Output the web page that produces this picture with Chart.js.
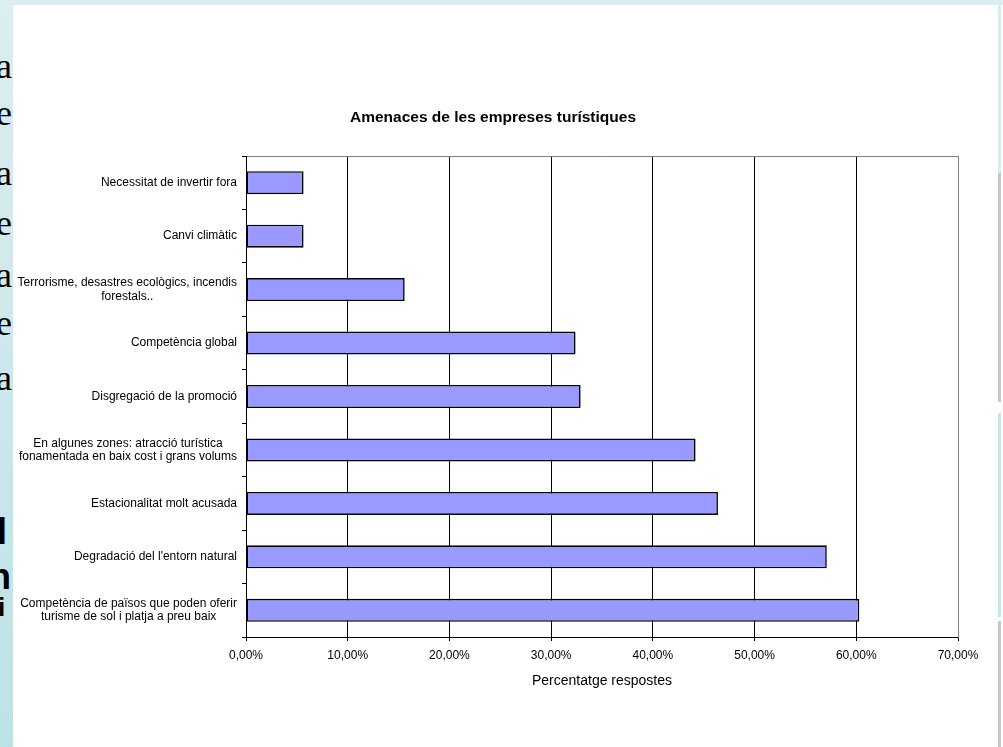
<!DOCTYPE html>
<html>
<head>
<meta charset="utf-8">
<script src="https://cdn.jsdelivr.net/npm/chart.js@4.4.1/dist/chart.umd.min.js"></script>
<style>
  html, body { margin: 0; padding: 0; }
  body {
    width: 1003px; height: 747px; overflow: hidden; position: relative;
    background: linear-gradient(#dceef0, #bde2e5);
  }
  .letter { position: absolute; color: #000; line-height: 1; }
  .serif { font-family: "Liberation Serif"; font-size: 36px; }
  .sans { font-family: "Liberation Sans"; font-weight: bold; font-size: 36px; }
  #panel { position: absolute; left: 13px; top: 5px; width: 985px; height: 742px; background: #fff; }
  #edge {
    position: absolute; left: 998px; top: 5px; width: 3px; height: 742px;
    background: linear-gradient(#d6ecee 0px, #d6ecee 168px, #c8c8c8 168px, #c8c8c8 397px,
      #fff 397px, #fff 408px, #c6e6e8 408px, #c6e6e8 612px, #fff 612px, #fff 616px, #c8c8c8 616px);
  }
  #right { position: absolute; left: 1001px; top: 5px; width: 2px; height: 742px; background: #fff; }
  #wrap { position: absolute; left: 0; top: 0; width: 986px; height: 747px; }
  #chart { display: block; width: 986px; height: 747px; }
</style>
</head>
<body>
<!-- slide text peeking out behind the chart -->
<span class="letter serif" style="left:-4px; top:48px">a</span>
<span class="letter serif" style="left:-4px; top:95px">e</span>
<span class="letter serif" style="left:-4px; top:155px">a</span>
<span class="letter serif" style="left:-4px; top:205px">e</span>
<span class="letter serif" style="left:-4px; top:257px">a</span>
<span class="letter serif" style="left:-4px; top:305px">e</span>
<span class="letter serif" style="left:-4px; top:360px">a</span>
<span class="letter sans" style="left:-3px; top:514px">l</span>
<span class="letter sans" style="left:-11px; top:559px">n</span>
<span class="letter sans" style="left:-2px; top:594px; font-size:26px">i</span>
<div id="panel"></div>
<div id="edge"></div>
<div id="right"></div>
<div id="wrap"><canvas id="chart" width="986" height="747"></canvas></div>

<script>
const chartTitle = "Amenaces de les empreses turístiques";
const axisTitle = "Percentatge respostes";

const categories = [
  ["Necessitat de invertir fora"],
  ["Canvi climàtic"],
  ["Terrorisme, desastres ecològics, incendis", "forestals.."],
  ["Competència global"],
  ["Disgregació de la promoció"],
  ["En algunes zones: atracció turística", "fonamentada en baix cost i grans volums"],
  ["Estacionalitat molt acusada"],
  ["Degradació del l'entorn natural"],
  ["Competència de països que poden oferir", "turisme de sol i platja a preu baix"]
];

const values = [5.66, 5.66, 15.6, 32.4, 32.9, 44.2, 46.4, 57.1, 60.3];

const xTickLabels = ["0,00%", "10,00%", "20,00%", "30,00%", "40,00%", "50,00%", "60,00%", "70,00%"];

const labelFont = '12px "Liberation Sans"';
const labelLineHeight = 13.5;

// category labels: block right-aligned at the axis, lines centred inside the block
const yLabelPlugin = {
  id: "yLabels",
  afterDraw(chart) {
    const ctx = chart.ctx;
    const scale = chart.scales.y;
    const right = chart.chartArea.left - 9;
    ctx.save();
    ctx.font = labelFont;
    ctx.fillStyle = "#000";
    ctx.textAlign = "center";
    ctx.textBaseline = "middle";
    categories.forEach((lines, i) => {
      const w = Math.max(...lines.map((l) => ctx.measureText(l).width));
      const cx = right - w / 2;
      const y0 = scale.getPixelForValue(i) - ((lines.length - 1) * labelLineHeight) / 2;
      lines.forEach((l, j) => ctx.fillText(l, cx, y0 + j * labelLineHeight));
    });
    ctx.restore();
  },
};

new Chart(document.getElementById("chart"), {
  type: "bar",
  data: {
    labels: categories,
    datasets: [
      {
        data: values,
        yAxisID: "y",
        backgroundColor: "#9999ff",
        borderColor: "#000",
        borderWidth: 1.6,
        borderSkipped: false,
        barPercentage: 0.43,
        categoryPercentage: 1,
      },
    ],
  },
  options: {
    indexAxis: "y",
    responsive: false,
    animation: false,
    events: [],
    layout: { padding: 0 },
    plugins: {
      legend: { display: false },
      tooltip: { enabled: false },
      title: {
        display: true,
        text: chartTitle,
        color: "#000",
        font: { family: "Liberation Sans", size: 15.5, weight: "bold" },
        padding: { top: 108, bottom: 29.4 },
      },
    },
    scales: {
      x: {
        type: "linear",
        min: 0,
        max: 70,
        afterFit: (scale) => { scale.height = 110; },
        afterBuildTicks: (scale) => {
          scale.ticks = xTickLabels.map((_, i) => ({ value: i * 10 }));
        },
        ticks: {
          color: "#000",
          font: { family: "Liberation Sans", size: 12 },
          padding: 7,
          maxRotation: 0,
          autoSkip: false,
          callback: (v, i) => xTickLabels[i],
        },
        grid: {
          color: (ctx) => (ctx.tick && ctx.tick.value === 70 ? "#808080" : "#000"),
          tickColor: "#000",
          tickLength: 4,
          lineWidth: 1,
        },
        border: { display: true, color: "#000", width: 1 },
        title: {
          display: true,
          text: axisTitle,
          color: "#000",
          font: { family: "Liberation Sans", size: 14 },
          padding: { top: 0, bottom: 57 },
        },
      },
      y: {
        type: "category",
        position: "left",
        afterFit: (scale) => { scale.width = 246; },
        ticks: { display: false },
        grid: {
          offset: true,
          color: (ctx) => (ctx.index === 0 ? "#808080" : "rgba(0,0,0,0)"),
          tickColor: "#000",
          tickLength: 4,
          lineWidth: 1,
        },
        border: { display: true, color: "#000", width: 1 },
      },
      y2: {
        type: "linear",
        position: "right",
        afterFit: (scale) => { scale.width = 28; },
        ticks: { display: false },
        grid: { display: false, drawTicks: false },
        border: { display: true, color: "#808080", width: 1 },
      },
    },
  },
  plugins: [yLabelPlugin],
});
</script>
</body>
</html>
